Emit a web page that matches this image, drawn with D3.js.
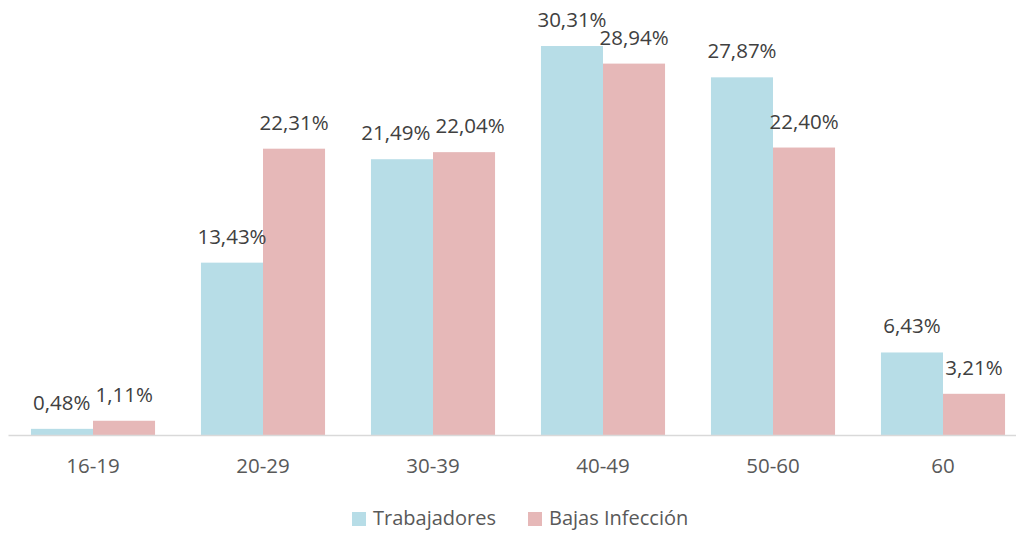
<!DOCTYPE html>
<html>
<head>
<meta charset="utf-8">
<script src="https://cdn.jsdelivr.net/npm/d3@7"></script>
<style>
  body { margin: 0; background: #fff; }
  svg { display: block; font-family: "Open Sans", "Noto Sans", sans-serif; }
</style>
</head>
<body>
<script>
let categories = ['16-19', '20-29', '30-39', '40-49', '50-60', '60']
let trabajadores = [0.48, 13.43, 21.49, 30.31, 27.87, 6.43]
let bajas = [1.11, 22.31, 22.04, 28.94, 22.40, 3.21]
let seriesNames = ['Trabajadores', 'Bajas Infección']
let colors = ['#b7dde7', '#e6b8b8']

let width = 1016
let height = 534
let baseline = 435

let svg = d3.select('body').append('svg')
    .attr('width', width)
    .attr('height', height)

let xScale = d3.scaleBand()
    .domain(categories)
    .range([8, 1028])
    .paddingInner(0.27)
    .paddingOuter(0.135)

let subScale = d3.scaleBand()
    .domain([0, 1])
    .range([0, xScale.bandwidth()])

let yScale = d3.scaleLinear()
    .domain([0, 30])
    .range([baseline, baseline - 385])

let rows = categories.map((c, i) => [
    {cat: c, s: 0, v: trabajadores[i]},
    {cat: c, s: 1, v: bajas[i]}
])

let fmt = v => v.toFixed(2).replace('.', ',') + '%'

let groups = svg.selectAll('g.grp')
    .data(rows)
    .enter()
    .append('g')
    .attr('class', 'grp')
    .attr('transform', (d, i) => 'translate(' + xScale(categories[i]) + ',0)')

groups.selectAll('rect')
    .data(d => d)
    .enter()
    .append('rect')
    .attr('x', d => subScale(d.s))
    .attr('width', subScale.bandwidth())
    .attr('y', d => yScale(d.v))
    .attr('height', d => baseline - yScale(d.v))
    .attr('fill', d => colors[d.s])

groups.each(function() {
    let labels = d3.select(this).selectAll('text.lbl')
        .data(d => d)
        .enter()
        .append('text')
        .attr('class', 'lbl')
        .attr('x', d => subScale(d.s) + subScale.bandwidth() / 2)
        .attr('y', d => yScale(d.v) - 19)
        .attr('text-anchor', 'middle')
        .attr('font-size', 20.5)
        .attr('fill', '#404040')
        .text(d => fmt(d.v))

    // push the two labels apart when they collide, like Excel does
    let nodes = labels.nodes()
    let a = nodes[0], b = nodes[1]
    let ya = +a.getAttribute('y'), yb = +b.getAttribute('y')
    if (Math.abs(ya - yb) < 16) {
        let xa = +a.getAttribute('x'), xb = +b.getAttribute('x')
        let wa = a.getComputedTextLength(), wb = b.getComputedTextLength()
        let overlap = (xa + wa / 2) - (xb - wb / 2) + 5
        if (overlap > 0) {
            a.setAttribute('x', xa - overlap / 2)
            b.setAttribute('x', xb + overlap / 2)
        }
    }
})

// x axis
let xAxis = d3.axisBottom(xScale).tickSize(0)
let gx = svg.append('g')
    .attr('transform', 'translate(0,' + baseline + ')')
    .call(xAxis)
gx.select('.domain').attr('stroke', '#d9d9d9').attr('stroke-width', 1.5)
gx.selectAll('text')
    .attr('y', 38)
    .attr('dy', 0)
    .attr('font-size', 20.5)
    .attr('fill', '#595959')
    .attr('font-family', '"Open Sans", "Noto Sans", sans-serif')

// legend
let legendX = [352, 528]
let legend = svg.selectAll('g.leg')
    .data(seriesNames)
    .enter()
    .append('g')
    .attr('class', 'leg')
    .attr('transform', (d, i) => 'translate(' + legendX[i] + ',512)')
legend.append('rect')
    .attr('width', 14)
    .attr('height', 14)
    .attr('fill', (d, i) => colors[i])
legend.append('text')
    .attr('x', 21)
    .attr('y', 13)
    .attr('font-size', 20)
    .attr('fill', '#595959')
    .text(d => d)
</script>
</body>
</html>
